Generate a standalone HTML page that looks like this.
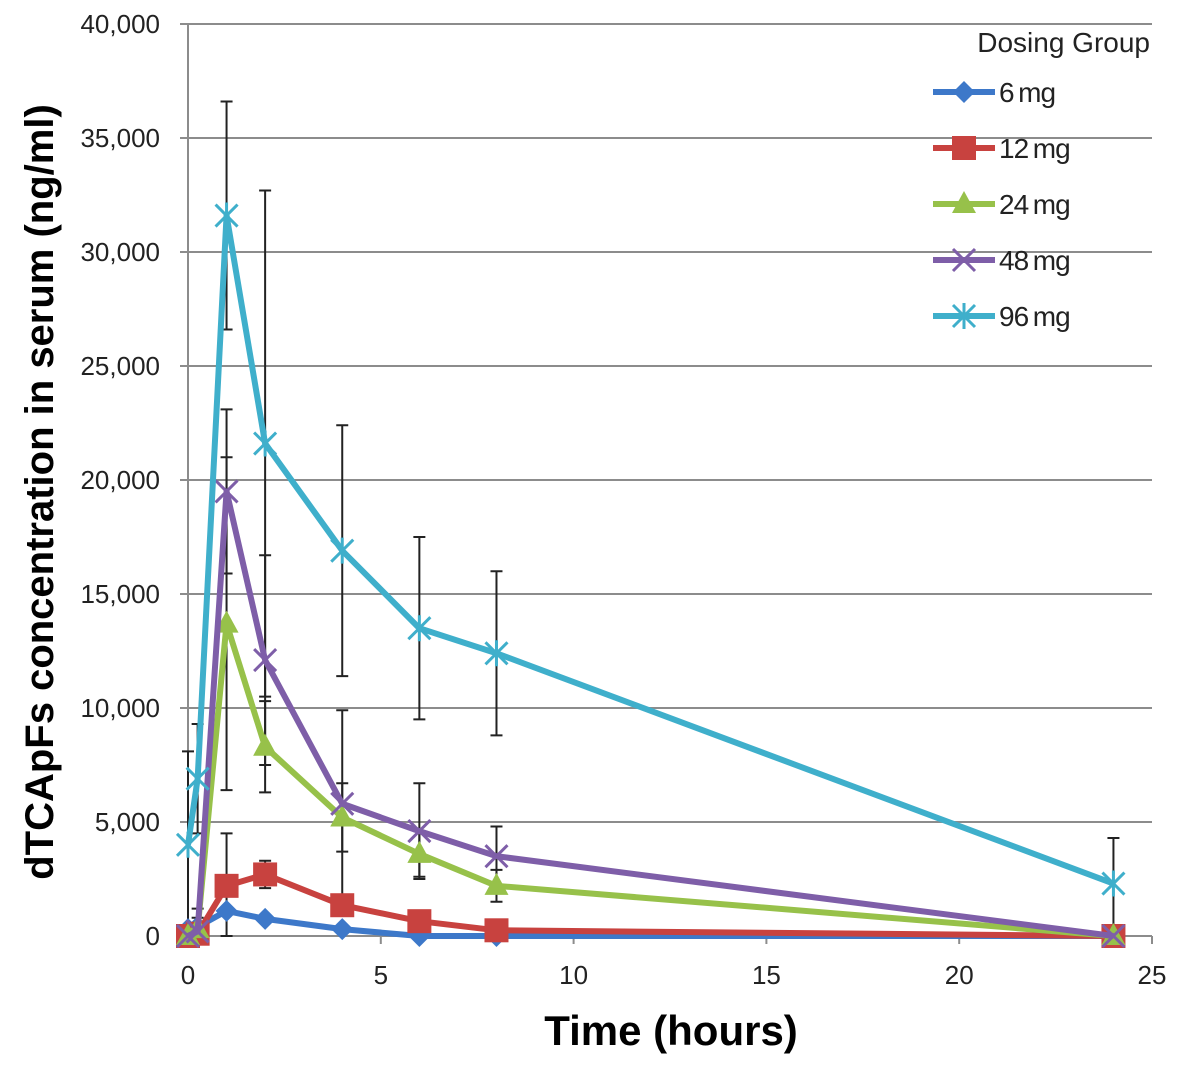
<!DOCTYPE html>
<html><head><meta charset="utf-8"><style>
body{margin:0;background:#fff;font-family:"Liberation Sans",sans-serif}
svg{display:block}
</style></head><body>
<svg id="chart" width="1181" height="1066" xmlns="http://www.w3.org/2000/svg"></svg>
<script>
const times=[0,0.25,1,2,4,6,8,24];
const seriesNames=["6mg","12mg","24mg","48mg","96mg"];
const v6=[300,400,1100,750,300,0,0,0];
const v12=[0,100,2200,2700,1350,650,250,0];
const v24=[0,300,13700,8300,5200,3600,2200,0];
const v48=[0,200,19500,12100,5800,4600,3500,0];
const v96=[4000,6900,31600,21600,16900,13500,12400,2300];
const e6=[0,0,0,0,0,0,0,0];
const e12=[0,0,2300,600,0,0,0,0];
const e24=[0,500,7300,2000,1500,1000,700,0];
const e48=[0,1000,3600,4600,4100,2100,1300,0];
const e96=[4100,2400,5000,11100,5500,4000,3600,2000];
const yTicks=[0,5000,10000,15000,20000,25000,30000,35000,40000];
const xTicks=[0,5,10,15,20,25];

const NS="http://www.w3.org/2000/svg";
const svg=document.getElementById('chart');
const X0=188,X1=1152,Y0=936,Y1=24;
const xs=t=>X0+(t/25)*(X1-X0);
const ys=v=>Y0-(v/40000)*(Y0-Y1);
function mk(tag,a,parent){const e=document.createElementNS(NS,tag);for(const k in a)e.setAttribute(k,a[k]);(parent||svg).appendChild(e);return e;}

const grid=mk('g',{});


yTicks.forEach(t=>{
  if(t>0){const l=mk('line',{x1:X0-8,x2:X1,y1:ys(t),y2:ys(t),stroke:'#8c8c8c','stroke-width':2},grid);
  
  }
  const tx=mk('text',{x:160,y:ys(t)+9,'text-anchor':'end','font-size':26,fill:'#222'});
  tx.textContent=t.toLocaleString('en-US');
  
  
});
const ax=mk('g',{});


mk('line',{x1:X0,x2:X0,y1:Y1,y2:Y0,stroke:'#8c8c8c','stroke-width':2},ax);
mk('line',{x1:X0-8,x2:X1,y1:Y0,y2:Y0,stroke:'#8c8c8c','stroke-width':2},ax);
xTicks.forEach(t=>{
  mk('line',{x1:xs(t),x2:xs(t),y1:Y0,y2:Y0+8,stroke:'#8c8c8c','stroke-width':2},ax);
  const tx=mk('text',{x:xs(t),y:Y0+48,'text-anchor':'middle','font-size':26,fill:'#222'});
  tx.textContent=t;
  
  
});
const yt=mk('text',{x:0,y:0,transform:'translate(53,492) rotate(-90)','text-anchor':'middle','font-size':40,'font-weight':'bold',fill:'#000'});
yt.textContent='dTCApFs concentration in serum (ng/ml)';


const xt=mk('text',{x:671,y:1045,'text-anchor':'middle','font-size':42,'font-weight':'bold',fill:'#000'});
xt.textContent='Time (hours)';



const colors=['#3d78c9','#c8423f','#97c14a','#7e5ea8','#3fafcb'];
const vals=[v6,v12,v24,v48,v96], errs=[e6,e12,e24,e48,e96];
function marker(i,x,y,g){
  const c=colors[i];
  if(i===0) mk('polygon',{points:`${x},${y-11} ${x+11},${y} ${x},${y+11} ${x-11},${y}`,fill:c},g);
  else if(i===1) mk('rect',{x:x-12,y:y-12,width:24,height:24,fill:c},g);
  else if(i===2) mk('polygon',{points:`${x},${y-13} ${x+12},${y+9} ${x-12},${y+9}`,fill:c},g);
  else if(i===3){mk('path',{d:`M${x-11} ${y-11}L${x+11} ${y+11}M${x+11} ${y-11}L${x-11} ${y+11}`,stroke:c,'stroke-width':3},g);}
  else {mk('path',{d:`M${x-11} ${y-11}L${x+11} ${y+11}M${x+11} ${y-11}L${x-11} ${y+11}M${x} ${y-13}L${x} ${y+13}`,stroke:c,'stroke-width':3},g);}
}
const eb=mk('g',{});


vals.forEach((vs,i)=>{vs.forEach((v,j)=>{const e=errs[i][j];if(!e)return;const x=xs(times[j]);
  mk('path',{d:`M${x} ${ys(v+e)}V${ys(Math.max(0,v-e))}M${x-6} ${ys(v+e)}H${x+6}M${x-6} ${ys(Math.max(0,v-e))}H${x+6}`,stroke:'#222','stroke-width':2,fill:'none'},eb);});});
vals.forEach((vs,i)=>{
  const g=mk('g',{});
  
  
  mk('polyline',{points:vs.map((v,j)=>xs(times[j])+','+ys(v)).join(' '),fill:'none',stroke:colors[i],'stroke-width':6,'stroke-linejoin':'round'},g);
  vs.forEach((v,j)=>marker(i,xs(times[j]),ys(v),g));
});
const lg=mk('g',{});


const lt=mk('text',{x:1150,y:52,'text-anchor':'end','font-size':28,fill:'#222'},lg);
lt.textContent='Dosing Group';
seriesNames.forEach((n,i)=>{
  const y=92+i*56;
  const g=mk('g',{},lg);
  
  
  mk('line',{x1:933,x2:995,y1:y,y2:y,stroke:colors[i],'stroke-width':6},g);
  marker(i,964,y,g);
  const t=mk('text',{x:999,y:y+10,'font-size':28,fill:'#222','letter-spacing':'-1'},g);
  t.textContent=n.replace('mg','\u2009mg');
});
</script>
</body></html>
